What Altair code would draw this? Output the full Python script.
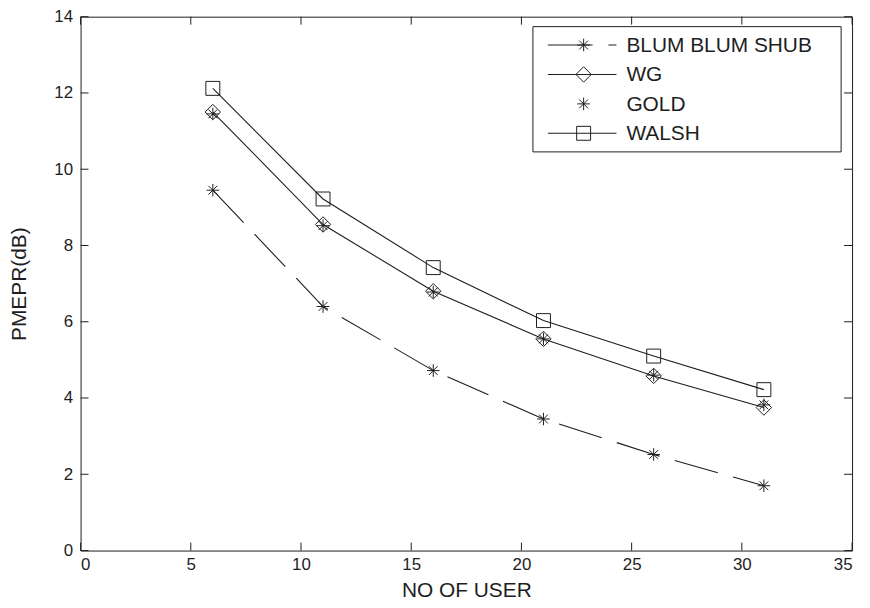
import altair as alt
import pandas as pd

# ---- data ----
users = [6, 11, 16, 21, 26, 31]
bbs = [9.45, 6.40, 4.72, 3.45, 2.52, 1.70]
wg = [11.50, 8.55, 6.80, 5.55, 4.58, 3.75]
gold = [11.45, 8.52, 6.78, 5.55, 4.60, 3.82]
walsh = [12.12, 9.22, 7.42, 6.03, 5.10, 4.22]
series_names = ["BLUM BLUM SHUB", "WG", "GOLD", "WALSH"]
x_ticks = [0, 5, 10, 15, 20, 25, 30, 35]
y_ticks = [0, 2, 4, 6, 8, 10, 12, 14]

W, H = 776, 537
FONT = "Liberation Sans"
INK = "#1e1e1e"
ASTER = "M-1,0L1,0M0,-1L0,1M-0.7,-0.7L0.7,0.7M-0.7,0.7L0.7,-0.7"
DASH = [45, 16]

rows = []
for name, vals in zip(series_names, [bbs, wg, gold, walsh]):
    for u, v in zip(users, vals):
        rows.append({"users": u, "val": v, "series": name})
df = pd.DataFrame(rows)

xs = alt.Scale(domain=[0, 35], nice=False, zero=False)
ys = alt.Scale(domain=[0, 14], nice=False, zero=False)

X = alt.X("users:Q", scale=xs, axis=alt.Axis(
    values=x_ticks, tickSize=0, labelPadding=6, title="NO OF USER",
    titlePadding=7, grid=False))
Y = alt.Y("val:Q", scale=ys, axis=alt.Axis(
    values=y_ticks, tickSize=0, labelPadding=8, title="PMEPR(dB)",
    titlePadding=24, grid=False))

base = alt.Chart(df)

def line(name, dash=None):
    kw = dict(color=INK, strokeWidth=1.1)
    if dash:
        kw["strokeDash"] = dash
    return base.transform_filter(alt.datum.series == name).mark_line(**kw).encode(x=X, y=Y)

def pts(name, shape, size):
    return base.transform_filter(alt.datum.series == name).mark_point(
        shape=shape, size=size, filled=False, stroke=INK, strokeWidth=1, opacity=1
    ).encode(x=X, y=Y)

layers = [
    line("WALSH"), line("WG"), line("BLUM BLUM SHUB", DASH),
    pts("WALSH", "square", 196), pts("WG", "diamond", 240),
    pts("GOLD", ASTER, 160), pts("BLUM BLUM SHUB", ASTER, 160),
]

# inward ticks on all four sides
xt = alt.Chart(pd.DataFrame({"t": x_ticks}))
yt = alt.Chart(pd.DataFrame({"t": y_ticks}))
layers += [
    xt.mark_rule(color=INK, strokeWidth=1).encode(x=alt.X("t:Q", scale=xs), y=alt.value(H - 8), y2=alt.value(H)),
    xt.mark_rule(color=INK, strokeWidth=1).encode(x=alt.X("t:Q", scale=xs), y=alt.value(0), y2=alt.value(8)),
    yt.mark_rule(color=INK, strokeWidth=1).encode(y=alt.Y("t:Q", scale=ys), x=alt.value(0), x2=alt.value(8)),
    yt.mark_rule(color=INK, strokeWidth=1).encode(y=alt.Y("t:Q", scale=ys), x=alt.value(W - 8), x2=alt.value(W)),
]

# legend box
one = pd.DataFrame({"k": [0]})
layers.append(alt.Chart(one).mark_rect(fill="white", stroke=INK, strokeWidth=1).encode(
    x=alt.value(455), x2=alt.value(765), y=alt.value(10), y2=alt.value(136)))

leg_specs = [
    ("BLUM BLUM SHUB", ASTER, 160, True, DASH),
    ("WG", "diamond", 240, True, None),
    ("GOLD", ASTER, 160, False, None),
    ("WALSH", "square", 196, True, None),
]
for i, (name, shape, size, has_line, dash) in enumerate(leg_specs):
    ly = 28.5 + 29.6 * i
    c = alt.Chart(pd.DataFrame({"label": [name]}))
    if has_line:
        kw = dict(color=INK, strokeWidth=1.1)
        if dash:
            kw["strokeDash"] = dash
        layers.append(c.mark_rule(**kw).encode(x=alt.value(470), x2=alt.value(539), y=alt.value(ly)))
    layers.append(c.mark_point(shape=shape, size=size, filled=False, stroke=INK, strokeWidth=1, opacity=1).encode(
        x=alt.value(506), y=alt.value(ly)))
    layers.append(c.mark_text(align="left", baseline="middle", font=FONT, fontSize=21, color=INK, dy=1).encode(
        x=alt.value(549), y=alt.value(ly), text="label:N"))

chart = alt.layer(*layers).properties(
    width=W, height=H,
    autosize=alt.AutoSizeParams(type="none"),
    padding={"left": 73, "top": 7, "right": 10, "bottom": 50},
    background="white",
).configure_view(stroke=INK, strokeWidth=1).configure_axis(
    domain=False, labelFont=FONT, labelFontSize=17, labelColor=INK,
    titleFont=FONT, titleFontSize=21, titleFontWeight="normal", titleColor=INK,
)

chart.save("out.html", embed_options={"renderer": "svg", "actions": False})
